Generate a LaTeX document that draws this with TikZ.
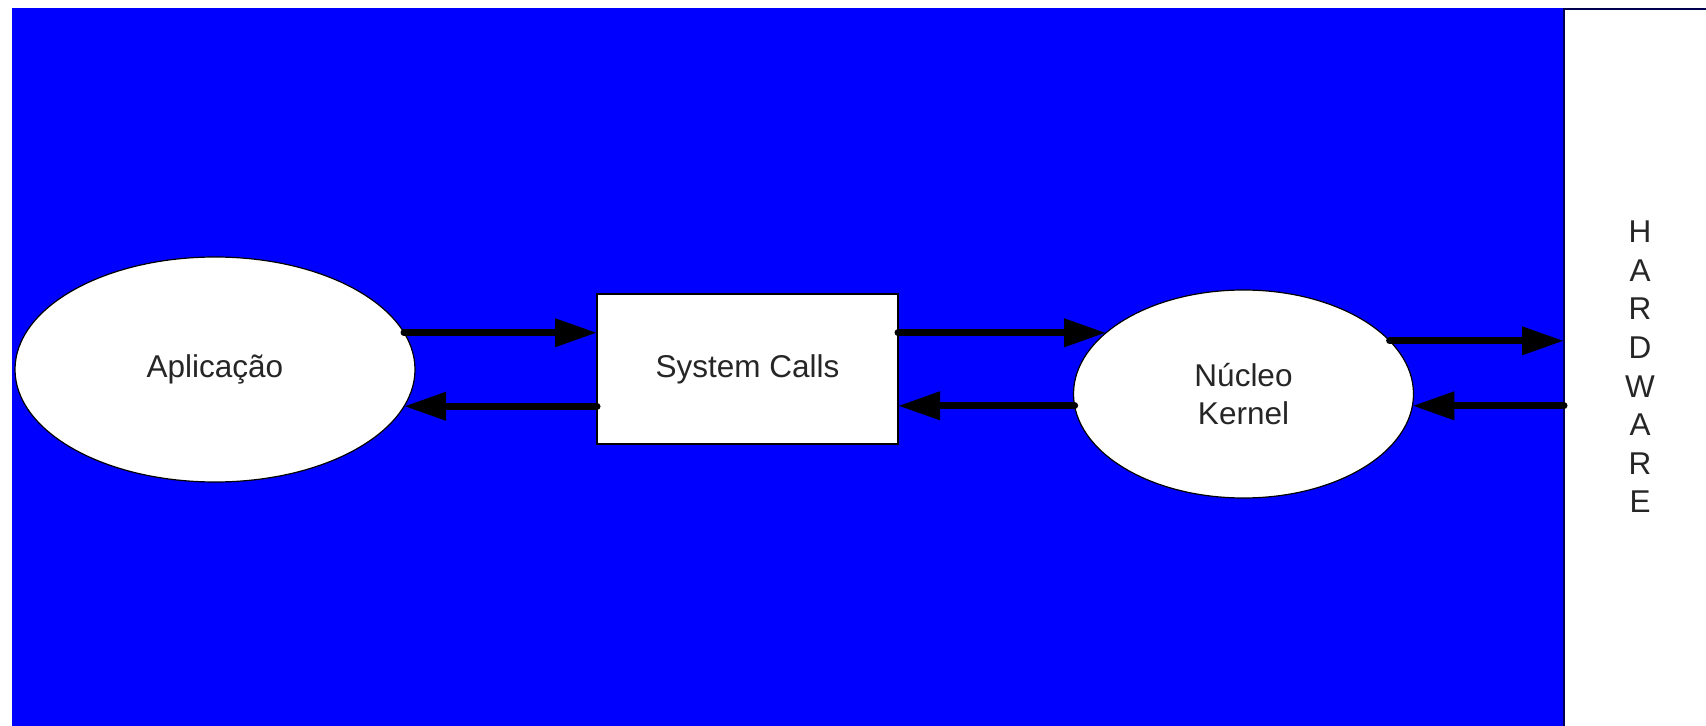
\documentclass[tikz,border=0pt]{standalone}
\usepackage{fontspec}
\setmainfont{Liberation Sans}
\usetikzlibrary{shapes.geometric,arrows.meta}
\definecolor{bgblue}{RGB}{0,0,255}
\definecolor{ink}{RGB}{38,38,38}
\definecolor{edge}{RGB}{0,0,80}
\begin{document}
\begin{tikzpicture}[x=0.5pt,y=-0.5pt,
  lbl/.style={font=\fontsize{15.75}{19}\selectfont, text=ink},
  oval/.style={ellipse, draw=black, line width=0.6pt, fill=white, inner sep=0pt, outer sep=0pt, lbl},
  callbox/.style={rectangle, draw=black, line width=0.6pt, fill=white, inner sep=0pt, outer sep=0pt, lbl},
  hwbox/.style={rectangle, draw=edge, line width=1pt, fill=white, inner sep=0pt, outer sep=0pt},
  flow/.style={line width=3.5pt, line cap=round, -{Triangle[length=21pt,width=13.5pt]}},
]
\clip (0,0) rectangle (1706,726);
\fill[white] (0,0) rectangle (1706,726);
% blue panel
\fill[bgblue] (12,8) rectangle (1720,740);

% layers
\node[oval, minimum width=200pt, minimum height=112.5pt] (app) at (215,369.5) {Aplicação};
\node[callbox, minimum width=150.5pt, minimum height=75pt] (sys) at (747.5,369) {System Calls};
\node[oval, minimum width=170pt, minimum height=104pt, align=center] (ker) at (1243.5,394) {Núcleo\\Kernel};
\node[hwbox, anchor=north west, minimum width=100pt, minimum height=380pt] (hw) at (1564,9.5) {};
\node[lbl, align=center, font=\fontsize{15.75}{19.3}\selectfont] (hwlabel) at (1640,367) {H\\A\\R\\D\\W\\A\\R\\E};

% calls and returns
\draw[flow] (app.11) -- (app.11 -| sys.west);
\draw[flow] (sys.west |- app.-11) -- (app.-11);
\draw[flow] (sys.east |- ker.156) -- (ker.156);
\draw[flow] (ker.184) -- (ker.184 -| sys.east);
\draw[flow] (ker.20) -- (ker.20 -| hw.west);
\draw[flow] (hw.west |- ker.-4) -- (ker.-4);
\end{tikzpicture}
\end{document}
